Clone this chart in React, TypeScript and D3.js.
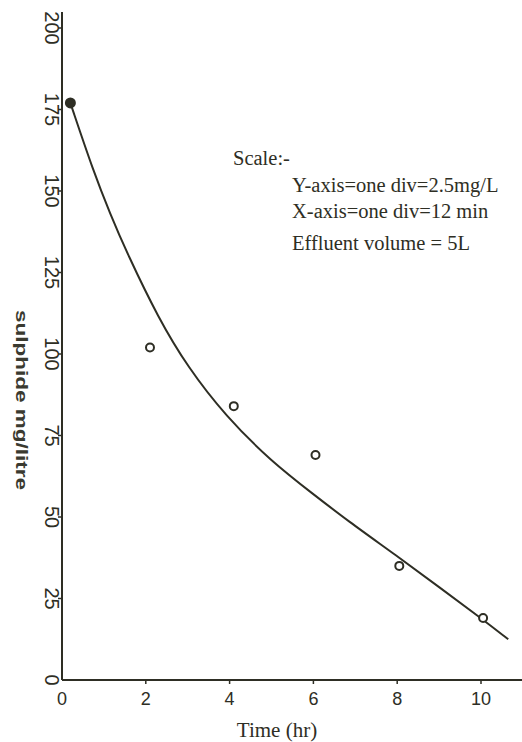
import React from 'react';
import * as d3 from 'd3';

// observed points
const timeHr = [0.2, 2.1, 4.1, 6.05, 8.05, 10.05];
const sulphide = [177, 102, 84, 69, 35, 19];

// hand-drawn fitted curve
const curveTime = [0.2, 0.75, 1.15, 1.55, 2.3, 3.0, 3.9, 5.0, 6.0, 6.8, 8.0, 9.0, 10.0, 10.65];
const curveVal = [177, 156, 143, 131, 111, 96, 81, 67, 57, 49, 38, 28.5, 19, 12.5];

const xTicks = [0, 2, 4, 6, 8, 10];
const yTicks = [0, 25, 50, 75, 100, 125, 150, 175, 200];

const scaleNotes = ['Y-axis=one div=2.5mg/L', 'X-axis=one div=12 min', 'Effluent volume = 5L'];

const W = 522;
const H = 742;
const ink = '#2e2e24';

const App = () => {
  const x = d3.scaleLinear().domain([0, 10]).range([62, 481]);
  const y = d3.scaleLinear().domain([0, 200]).range([680, 28]);

  const line = d3.line<number>()
    .x((d, i) => x(curveTime[i]))
    .y(d => y(d))
    .curve(d3.curveBasis);

  const sans = 'Liberation Sans, Arial, sans-serif';
  const serif = 'Liberation Serif, Times New Roman, serif';

  return (
    <svg width={W} height={H} style={{ position: 'absolute', left: 0, top: 0, background: '#fff' }}>
      {/* axes */}
      <line x1={x(0)} x2={W} y1={y(0)} y2={y(0)} stroke={ink} strokeWidth={2} />
      <line x1={x(0)} x2={x(0)} y1={y(0)} y2={12} stroke={ink} strokeWidth={2} />

      {yTicks.map(t => (
        <g key={'y' + t}>
          {t > 0 && <line x1={x(0) - 4} x2={x(0)} y1={y(t)} y2={y(t)} stroke={ink} strokeWidth={1.5} />}
          <text
            transform={`translate(${52},${y(t)}) rotate(90)`}
            textAnchor="middle"
            dominantBaseline="central"
            fontFamily={sans}
            fontSize={20}
            fill={ink}
          >{t}</text>
        </g>
      ))}

      {xTicks.map(t => (
        <g key={'x' + t}>
          {t > 0 && <line x1={x(t)} x2={x(t)} y1={y(0)} y2={y(0) + 4} stroke={ink} strokeWidth={1.5} />}
          <text x={x(t)} y={705} textAnchor="middle" fontFamily={sans} fontSize={18} fill={ink}>{t}</text>
        </g>
      ))}

      <text
        transform={`translate(21,400) rotate(90)`}
        textAnchor="middle"
        dominantBaseline="central"
        fontFamily={sans}
        fontSize={16}
        fontWeight="bold"
        textLength={180}
        lengthAdjust="spacingAndGlyphs"
        fill="#3a3a30"
      >sulphide mg/litre</text>

      <text x={277} y={737} textAnchor="middle" fontFamily={serif} fontSize={21} fill={ink}>Time (hr)</text>

      {/* fitted curve */}
      <path d={line(curveVal) || ''} fill="none" stroke={ink} strokeWidth={2} />

      {timeHr.map((t, i) => (
        <circle
          key={'p' + i}
          cx={x(t)}
          cy={y(sulphide[i])}
          r={i === 0 ? 4.5 : 4}
          fill={i === 0 ? ink : '#fff'}
          stroke={ink}
          strokeWidth={2}
        />
      ))}

      <text x={233} y={165} fontFamily={serif} fontSize={20.5} fill={ink}>Scale:-</text>
      {scaleNotes.map((s, i) => (
        <text key={s} x={292} y={[192, 218, 250][i]} fontFamily={serif} fontSize={20.5} fill={ink}>{s}</text>
      ))}
    </svg>
  );
};

export default App;
